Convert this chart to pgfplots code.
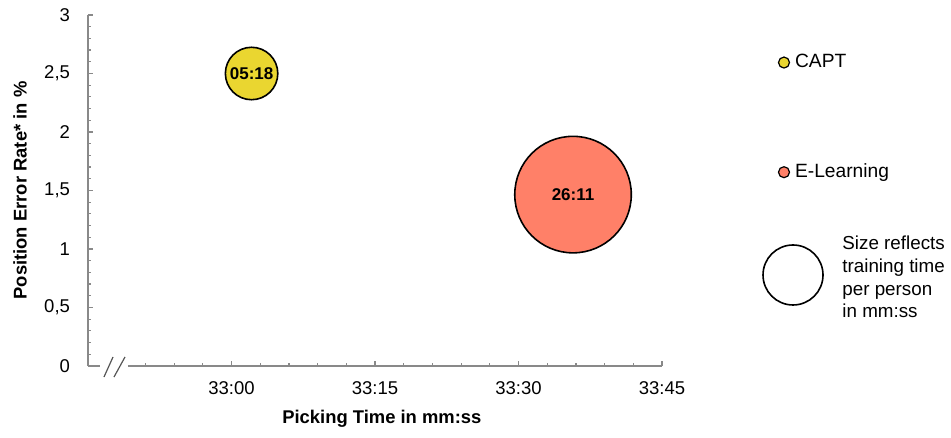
\documentclass[border=0pt]{standalone}
\usepackage{fontspec}
\setmainfont{Liberation Sans}
\usepackage{pgfplots}
\usepackage{pgfplotstable}
\pgfplotsset{compat=1.18}
\definecolor{captyellow}{RGB}{234,214,48}
\definecolor{elearn}{RGB}{255,128,104}
\definecolor{axisgray}{RGB}{137,137,137}
\definecolor{breakgray}{RGB}{85,85,85}

% x = picking time in seconds (33:00 = 1980 s), y = position error rate in %,
% t = training time per person in seconds (bubble size), lab = mm:ss label
\pgfplotstableread{
x y t lab
1982.1 2.50 318 05:18
}\capt
\pgfplotstableread{
x y t lab
2015.7 1.465 1571 26:11
}\elearning

% bubble radius proportional to sqrt(training time) (area reflects time)
\pgfplotstablegetelem{0}{t}\of\capt
\pgfmathsetmacro\captr{0.735*sqrt(\pgfplotsretval)}
\pgfplotstablegetelem{0}{t}\of\elearning
\pgfmathsetmacro\elearnr{0.735*sqrt(\pgfplotsretval)}

\begin{document}
\begin{tikzpicture}
\path[use as bounding box] (-44pt,-36pt) rectangle (431.5pt,183pt);
\begin{axis}[
  at={(0,0)}, anchor=south west, scale only axis,
  width=287pt, height=175.5pt,
  xmin=1965, xmax=2025, ymin=0, ymax=3,
  axis lines=left,
  axis line style={-, axisgray, line width=0.75pt},
  x axis line style={draw=none},
  xtick={1980,1995,2010,2025},
  xticklabels={33:00,33:15,33:30,33:45},
  minor xtick={1971,1974,1977,1983,1986,1989,1992,1998,2001,2004,2007,2013,2016,2019,2022},
  ytick={0,0.5,1,1.5,2,2.5,3},
  yticklabels={0,{0,5},1,{1,5},2,{2,5},3},
  minor y tick num=4,
  tick align=inside,
  major tick length=2.5pt, minor tick length=1.7pt,
  every tick/.style={axisgray, line width=0.6pt},
  /pgf/number format/assume math mode=true,
  tick label style={font=\fontsize{9.25}{11}\selectfont, black},
  xticklabel style={yshift=-4.5pt},
  yticklabel style={xshift=-5.5pt},
  xlabel={\textbf{Picking Time in mm:ss}},
  xlabel style={at={(axis description cs:0.512,-0.151)}, anchor=center, font=\fontsize{9.2}{11}\selectfont},
  ylabel={\textbf{Position Error Rate* in \%}},
  ylabel style={at={(axis description cs:-0.1185,0.5)}, anchor=center, font=\fontsize{9.2}{11}\selectfont},
  clip=false,
  legend style={at={(axis description cs:1.2012,0.708)}, anchor=west,
    draw=none, fill=none, inner sep=0pt, row sep=44.5pt, column sep=1.5pt,
    font=\fontsize{9.6}{11}\selectfont, nodes={inner sep=1pt}},
  legend cell align=left,
]
\draw[axisgray, line width=0.75pt] (axis cs:1965,0) -- (axis cs:1966.25,0);
\draw[axisgray, line width=0.75pt] (axis cs:1969.17,0) -- (axis cs:2025,0);
\draw[breakgray, line width=0.6pt] ([shift={(8pt,-5.5pt)}]axis cs:1965,0) -- ([shift={(12.5pt,4.5pt)}]axis cs:1965,0);
\draw[breakgray, line width=0.6pt] ([shift={(13pt,-5.5pt)}]axis cs:1965,0) -- ([shift={(18.5pt,4.5pt)}]axis cs:1965,0);

\addplot[only marks, mark=*, mark size=\captr pt,
  mark options={draw=black, fill=captyellow, line width=0.8pt},
  point meta=explicit symbolic,
  nodes near coords={\textbf{\pgfplotspointmeta}},
  nodes near coords style={anchor=center, font=\fontsize{8.5}{10}\selectfont, black},
  legend image code/.code={\draw[black, fill=captyellow, line width=0.6pt] (0pt,0pt) circle (2.75pt);},
] table[x=x, y=y, meta=lab] {\capt};
\addlegendentry{CAPT}

\addplot[only marks, mark=*, mark size=\elearnr pt,
  mark options={draw=black, fill=elearn, line width=0.8pt},
  point meta=explicit symbolic,
  nodes near coords={\textbf{\pgfplotspointmeta}},
  nodes near coords style={anchor=center, font=\fontsize{8.5}{10}\selectfont, black},
  legend image code/.code={\draw[black, fill=elearn, line width=0.6pt] (0pt,0pt) circle (2.75pt);},
] table[x=x, y=y, meta=lab] {\elearning};
\addlegendentry{E-Learning}
\end{axis}
\draw[black, line width=0.8pt] (352.5pt,45.5pt) circle (15pt);
\node[anchor=west, align=left, inner sep=0pt, font=\fontsize{9.4}{11.3}\selectfont] at (377pt,44.5pt) {Size reflects\\training time\\per person\\in mm:ss};
\end{tikzpicture}
\end{document}
